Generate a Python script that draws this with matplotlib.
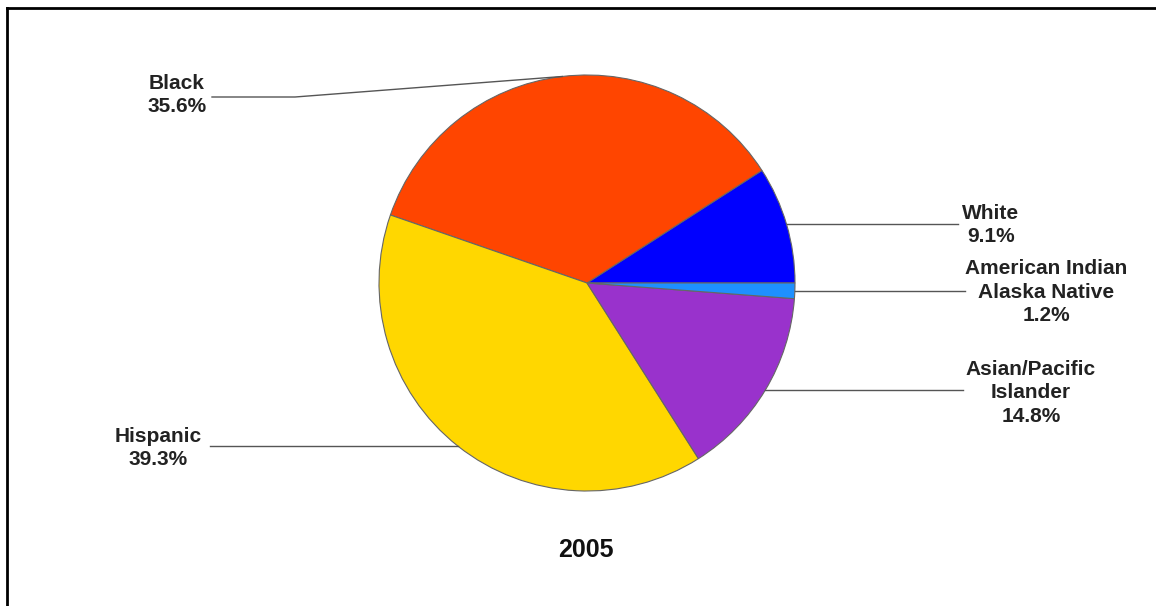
import matplotlib.pyplot as plt
import numpy as np

labels = ['White', 'Black', 'Hispanic', 'Asian/Pacific\nIslander', 'American Indian\nAlaska Native']
shares = [9.1, 35.6, 39.3, 14.8, 1.2]
colors = ['#0000FF', '#FF4500', '#FFD700', '#9932CC', '#1E90FF']
year = '2005'

W, H = 1156, 606
fig = plt.figure(figsize=(W / 100, H / 100), dpi=100)
ax = fig.add_axes([0, 0, 1, 1])

cx, cy, r = 587, H - 283, 208
wedges, _ = ax.pie(shares, colors=colors, startangle=0, counterclock=True,
                   center=(cx, cy), radius=r,
                   wedgeprops=dict(edgecolor='#666666', linewidth=0.8))
ax.set_xlim(0, W)
ax.set_ylim(0, H)
ax.set_aspect('equal')
ax.axis('off')

# label placement: (text x, text y, end of leader line x, optional elbow)
layout = {
    'White': (991, H - 225, 958, None),
    'Black': (177, H - 95, 212, (295, H - 97)),
    'Hispanic': (158, H - 448, 210, None),
    'Asian/Pacific\nIslander': (1031, H - 393, 963, None),
    'American Indian\nAlaska Native': (1046, H - 292, 965, None),
}

for w, lab, val in zip(wedges, labels, shares):
    mid = np.deg2rad((w.theta1 + w.theta2) / 2)
    px, py = cx + r * np.cos(mid), cy + r * np.sin(mid)
    tx, ty, lx, elbow = layout[lab]
    if elbow is None:
        ax.plot([px, lx], [py, py], color='#555555', lw=1)
    else:
        ax.plot([px, elbow[0], lx], [py, elbow[1], elbow[1]], color='#555555', lw=1)
    ax.text(tx, ty, f'{lab}\n{val}%', ha='center', va='center', fontsize=15,
            fontweight='bold', family='Liberation Sans', color='#222222',
            linespacing=1.3)

ax.text(586, H - 550, year, ha='center', va='center', fontsize=18,
        fontweight='bold', family='Liberation Sans', color='#111111')

# frame on top and left
fig.add_artist(plt.Line2D([7 / W, 1], [1 - 8 / H, 1 - 8 / H], color='black', lw=2))
fig.add_artist(plt.Line2D([7 / W, 7 / W], [0, 1 - 8 / H], color='black', lw=2))

fig.savefig('out.png', dpi=100)
